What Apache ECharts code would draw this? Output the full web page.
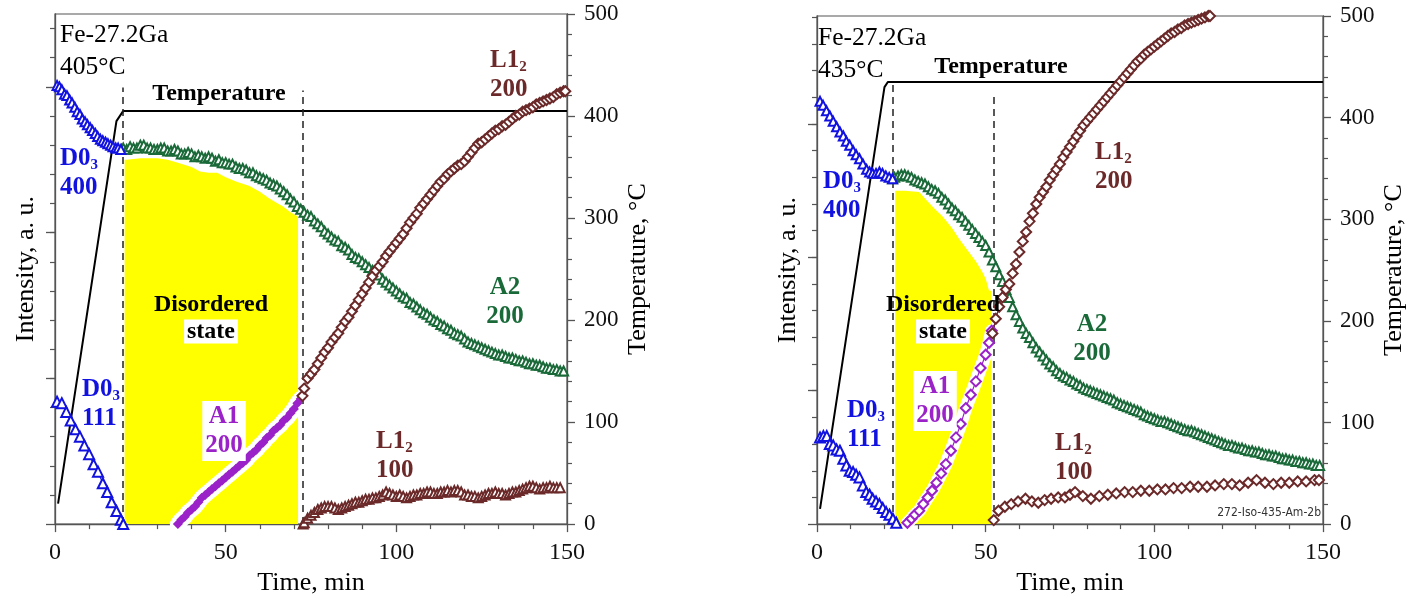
<!DOCTYPE html>
<html><head><meta charset="utf-8">
<script src="https://cdn.jsdelivr.net/npm/echarts@6/dist/echarts.min.js"></script>
<style>html,body{margin:0;padding:0;background:#fff}#c{width:1408px;height:601px}</style>
</head><body><div id="c"></div>
<script>
// ---------------- DATA ----------------
const timeTicks = [0, 50, 100, 150];
const tempTicks = [0, 100, 200, 300, 400, 500];
const intMajor = [0, 1, 2, 3];

// Left panel (405 C) : [time, intensity a.u.]
const L_d03_400 = [[0.6,3.01],[1.3,3.0],[2,2.98],[2.8,2.95],[3.5,2.94],[4.3,2.91],[5,2.89],[5.8,2.86],[6.5,2.83],[7.3,2.81],[8,2.78],[8.8,2.76],[9.5,2.74],[10.3,2.72],[11,2.70],[11.8,2.68],[12.5,2.66],[13.3,2.64],[14,2.63],[14.8,2.62],[15.5,2.61],[16.3,2.60],[17,2.59],[17.8,2.58],[18.5,2.58],[19.3,2.57]];
const L_d03_111 = [[0.6,0.84],[2,0.83],[3.3,0.77],[4.6,0.71],[6,0.65],[7.3,0.60],[8.6,0.54],[10,0.48],[11.3,0.41],[12.6,0.36],[14,0.28],[15.3,0.22],[16.6,0.15],[18,0.09],[19.3,0.03],[20,0.0]];
const L_a2 = [[19.5,2.57],[20,2.58],[21,2.57],[22,2.59],[23,2.58],[24,2.58],[25,2.60],[26,2.60],[27,2.58],[28,2.58],[29,2.57],[30,2.57],[31,2.58],[32,2.58],[33,2.56],[34,2.56],[35,2.57],[36,2.56],[37,2.54],[38,2.54],[39,2.55],[40,2.54],[41,2.52],[42,2.53],[43,2.52],[44,2.51],[45,2.52],[46,2.51],[47,2.49],[48,2.50],[49,2.48],[50,2.48],[51,2.47],[52,2.47],[53,2.45],[54,2.44],[55,2.44],[56,2.43],[57,2.41],[58,2.41],[59,2.39],[60,2.38],[61,2.37],[62,2.36],[63,2.34],[64,2.33],[65,2.32],[66,2.30],[67,2.28],[68,2.26],[69,2.23],[70,2.21],[71,2.18],[72,2.16],[73,2.14],[74,2.12],[75,2.11],[76,2.08],[77,2.06],[78,2.04],[79,2.01],[80,1.99],[81,1.97],[82,1.95],[83,1.94],[84,1.91],[85,1.90],[86,1.88],[87,1.85],[88,1.83],[89,1.82],[90,1.80],[91,1.78],[92,1.76],[93,1.74],[94,1.72],[95,1.71],[96,1.68],[97,1.66],[98,1.64],[99,1.62],[100,1.60],[101,1.58],[102,1.56],[103,1.55],[104,1.52],[105,1.51],[106,1.49],[107,1.47],[108,1.45],[109,1.44],[110,1.42],[111,1.40],[112,1.39],[113,1.37],[114,1.36],[115,1.34],[116,1.33],[117,1.31],[118,1.30],[119,1.29],[120,1.27],[121,1.25],[122,1.24],[123,1.23],[124,1.22],[125,1.21],[126,1.20],[127,1.19],[128,1.18],[129,1.17],[130,1.16],[131,1.16],[132,1.15],[133,1.14],[134,1.14],[135,1.13],[136,1.12],[137,1.12],[138,1.11],[139,1.10],[140,1.10],[141,1.09],[142,1.09],[143,1.08],[144,1.07],[145,1.07],[146,1.06],[147,1.06],[148,1.05],[149,1.05]];
const L_a1 = [[36,0.0],[37,0.03],[38,0.05],[39,0.08],[40,0.10],[41,0.12],[42,0.15],[43,0.18],[44,0.20],[45,0.22],[46,0.24],[47,0.26],[48,0.28],[49,0.30],[50,0.32],[51,0.34],[52,0.36],[53,0.38],[54,0.40],[55,0.42],[56,0.44],[57,0.47],[58,0.49],[59,0.51],[60,0.54],[61,0.56],[62,0.59],[63,0.61],[64,0.64],[65,0.66],[66,0.68],[67,0.71],[68,0.73],[69,0.76],[70,0.79],[71,0.83],[72,0.86]];
const L_l12_200 = [[72.5,0.88],[73,0.93],[74,1.00],[75,1.03],[76,1.06],[77,1.10],[78,1.14],[79,1.18],[80,1.21],[81,1.25],[82,1.28],[83,1.31],[84,1.35],[85,1.39],[86,1.42],[87,1.46],[88,1.50],[89,1.54],[90,1.58],[91,1.62],[92,1.66],[93,1.70],[94,1.74],[95,1.77],[96,1.80],[97,1.84],[98,1.87],[99,1.90],[100,1.93],[101,1.96],[102,1.99],[103,2.03],[104,2.07],[105,2.10],[106,2.13],[107,2.17],[108,2.20],[109,2.23],[110,2.26],[111,2.29],[112,2.32],[113,2.35],[114,2.37],[115,2.40],[116,2.42],[117,2.44],[118,2.46],[119,2.47],[120,2.49],[121,2.52],[122,2.55],[123,2.58],[124,2.61],[125,2.62],[126,2.64],[127,2.66],[128,2.68],[129,2.70],[130,2.71],[131,2.73],[132,2.74],[133,2.76],[134,2.78],[135,2.80],[136,2.81],[137,2.83],[138,2.84],[139,2.85],[140,2.86],[141,2.88],[142,2.89],[143,2.90],[144,2.91],[145,2.92],[146,2.93],[147,2.95],[148,2.96],[149,2.97],[149.5,2.97]];
const L_l12_100 = [[72.7,0.0],[73,0.01],[74,0.04],[75,0.06],[76,0.08],[77,0.10],[78,0.11],[79,0.12],[80,0.12],[81,0.12],[82,0.11],[83,0.10],[84,0.11],[85,0.12],[86,0.13],[87,0.14],[88,0.15],[89,0.15],[90,0.16],[91,0.17],[92,0.17],[93,0.18],[94,0.18],[95,0.19],[96,0.20],[97,0.22],[98,0.21],[99,0.20],[100,0.19],[101,0.20],[102,0.19],[103,0.18],[104,0.19],[105,0.20],[106,0.20],[107,0.21],[108,0.21],[109,0.22],[110,0.22],[111,0.21],[112,0.21],[113,0.22],[114,0.22],[115,0.23],[116,0.22],[117,0.23],[118,0.23],[119,0.22],[120,0.20],[121,0.20],[122,0.19],[123,0.19],[124,0.18],[125,0.19],[126,0.20],[127,0.21],[128,0.21],[129,0.22],[130,0.21],[131,0.21],[132,0.20],[133,0.21],[134,0.22],[135,0.22],[136,0.23],[137,0.24],[138,0.25],[139,0.26],[140,0.26],[141,0.25],[142,0.24],[143,0.25],[144,0.25],[145,0.26],[146,0.25],[147,0.25],[148,0.25]];
const L_yellow = [[20.4,2.50],[21,2.50],[25,2.51],[30,2.51],[33,2.50],[36,2.48],[40,2.45],[42.5,2.42],[45,2.41],[47.5,2.41],[50,2.38],[53,2.35],[57,2.32],[60,2.28],[63,2.23],[66.8,2.18],[69,2.14],[71.2,2.11]];
const L_temp = [[0.9,20],[18,395],[20,405],[150,405]];   // [time, degC]
const L_dash = [[19.9,428],[72.7,425]];                   // [time, top degC]

// Right panel (435 C)
const R_d03_400 = [[0.9,3.17],[1.8,3.14],[2.8,3.10],[3.8,3.06],[4.8,3.02],[5.8,2.98],[6.8,2.94],[7.8,2.91],[8.7,2.87],[9.7,2.84],[10.7,2.80],[11.6,2.77],[12.6,2.74],[13.6,2.70],[14.7,2.66],[15.6,2.64],[16.5,2.63],[17.5,2.63],[18.5,2.64],[19.4,2.63],[20.4,2.61],[21.4,2.60],[22.4,2.59]];
const R_d03_111 = [[0.9,0.65],[1.9,0.66],[2.9,0.66],[3.8,0.60],[4.8,0.59],[5.8,0.56],[6.8,0.55],[7.8,0.49],[8.7,0.44],[9.7,0.40],[10.7,0.39],[11.6,0.37],[12.6,0.35],[13.6,0.29],[14.6,0.24],[15.6,0.22],[16.5,0.19],[17.5,0.17],[18.5,0.15],[19.5,0.12],[20.5,0.09],[21.5,0.07],[22.5,0.04],[23.5,0.01]];
const R_a2 = [[22.4,2.59],[23,2.60],[24,2.61],[25,2.62],[26,2.62],[27,2.61],[28,2.60],[29,2.58],[30,2.57],[31,2.56],[32,2.55],[33,2.53],[34,2.51],[35,2.50],[36,2.48],[37,2.45],[38,2.43],[39,2.40],[40,2.37],[41,2.35],[42,2.32],[43,2.30],[44,2.27],[45,2.24],[46,2.21],[47,2.18],[48,2.15],[49,2.12],[50,2.09],[51,2.04],[52,1.98],[53,1.93],[54,1.87],[55,1.82],[56,1.76],[57,1.70],[58,1.63],[59,1.57],[60,1.52],[61,1.47],[62,1.43],[63,1.40],[64,1.36],[65,1.32],[66,1.29],[67,1.26],[68,1.23],[69,1.20],[70,1.18],[71,1.15],[72,1.13],[73,1.11],[74,1.10],[75,1.08],[76,1.07],[77,1.05],[78,1.04],[79,1.02],[80,1.01],[81,1.00],[82,0.99],[83,0.98],[84,0.97],[85,0.96],[86,0.95],[87,0.94],[88,0.93],[89,0.91],[90,0.90],[91,0.89],[92,0.88],[93,0.87],[94,0.86],[95,0.85],[96,0.84],[97,0.82],[98,0.81],[99,0.80],[100,0.79],[101,0.78],[102,0.77],[103,0.77],[104,0.76],[105,0.75],[106,0.74],[107,0.73],[108,0.72],[109,0.71],[110,0.70],[111,0.70],[112,0.69],[113,0.68],[114,0.67],[115,0.66],[116,0.65],[117,0.64],[118,0.63],[119,0.62],[120,0.61],[121,0.60],[122,0.59],[123,0.59],[124,0.58],[125,0.57],[126,0.57],[127,0.56],[128,0.55],[129,0.55],[130,0.54],[131,0.54],[132,0.53],[133,0.52],[134,0.52],[135,0.51],[136,0.51],[137,0.50],[138,0.49],[139,0.49],[140,0.48],[141,0.48],[142,0.47],[143,0.47],[144,0.46],[145,0.46],[146,0.45],[147,0.45],[148,0.44],[149,0.44]];
const R_a1 = [[26.8,0.01],[28,0.04],[29,0.07],[30.3,0.10],[31.5,0.15],[32.8,0.20],[34.1,0.25],[35.4,0.31],[36.8,0.38],[38.2,0.45],[39.7,0.55],[41.2,0.65],[42.6,0.75],[44.1,0.87],[45.6,0.97],[47.1,1.07],[48.5,1.17],[50,1.27],[51,1.36],[51.8,1.45]];
const R_l12_200 = [[52,1.43],[53,1.54],[54,1.63],[55,1.70],[56,1.76],[57,1.80],[58,1.88],[59,1.95],[60,2.04],[61,2.12],[62,2.19],[63,2.27],[64,2.33],[65,2.40],[66,2.45],[67,2.49],[68,2.53],[69,2.58],[70,2.62],[71,2.66],[72,2.70],[73,2.75],[74,2.79],[75,2.83],[76,2.87],[77,2.91],[78,2.95],[79,2.99],[80,3.02],[81,3.05],[82,3.08],[83,3.11],[84,3.14],[85,3.17],[86,3.20],[87,3.23],[88,3.26],[89,3.29],[90,3.32],[91,3.35],[92,3.38],[93,3.41],[94,3.44],[95,3.47],[96,3.49],[97,3.52],[98,3.54],[99,3.56],[100,3.58],[101,3.60],[102,3.62],[103,3.64],[104,3.66],[105,3.68],[106,3.69],[107,3.71],[108,3.72],[109,3.74],[110,3.75],[111,3.76],[112,3.77],[113,3.78],[114,3.79],[115,3.80],[116,3.81],[116.5,3.81]];
const R_l12_100 = [[52.4,0.03],[53.8,0.10],[55.7,0.13],[57.6,0.15],[59.6,0.17],[61.8,0.19],[63.7,0.17],[65.6,0.16],[67.5,0.18],[69.4,0.19],[71.5,0.20],[73.5,0.20],[75,0.22],[76.5,0.24],[78.8,0.21],[81.2,0.19],[83.7,0.21],[86.2,0.22],[88.7,0.23],[91.2,0.24],[93.6,0.24],[96,0.25],[98.5,0.25],[100.9,0.26],[103.3,0.26],[105.7,0.27],[108.1,0.27],[110.6,0.28],[113,0.28],[115.6,0.28],[118,0.29],[120.6,0.30],[123,0.30],[125.3,0.29],[127.8,0.31],[130.3,0.33],[132.8,0.31],[135.3,0.30],[137.6,0.31],[140,0.31],[142.5,0.32],[145,0.32],[147.5,0.33],[148.8,0.33]];
const R_yellow = [[23.2,2.50],[26,2.50],[30.3,2.49],[32.4,2.43],[35,2.36],[37.1,2.31],[40,2.22],[42.1,2.14],[45,2.04],[47.1,1.97],[49,1.89],[50,1.84],[51,1.75],[51.7,1.75]];
const R_temp = [[0.9,15],[20,430],[21,435],[150,435]];
const R_dash = [[22.4,432],[52.4,424]];

// annotations: [time, degC, text, kind]
const L_notes = [
  [1.5, 464, 'Fe-27.2Ga\n405°C', 'plain'],
  [48, 422, 'Temperature', 'temp'],
  [1.5, 344, 'D0_3\n400', 'blue'],
  [7.9, 118, 'D0_3\n111', 'blue'],
  [45.7, 203, 'Disordered\nstate', 'dis'],
  [49.5, 91, 'A1\n200', 'a1'],
  [127.5, 440, 'L1_2\n200', 'brown'],
  [131.8, 218, 'A2\n200', 'green'],
  [94, 67, 'L1_2\n100', 'brown']
];
const R_notes = [
  [0.3, 463, 'Fe-27.2Ga\n435°C', 'plain'],
  [54.4, 450, 'Temperature', 'temp'],
  [1.8, 323, 'D0_3\n400', 'blue'],
  [82.4, 351, 'L1_2\n200', 'brown'],
  [37.3, 204, 'Disordered\nstate', 'dis'],
  [81.5, 182, 'A2\n200', 'green'],
  [8.8, 98, 'D0_3\n111', 'blue'],
  [35, 121, 'A1\n200', 'a1'],
  [70.6, 65, 'L1_2\n100', 'brown'],
  [149.4, 11, '272-Iso-435-Am-2b', 'tag']
];

// ---------------- STYLE / BUILD ----------------
const SERIF = '"Liberation Serif","Times New Roman",serif';
const COL = {blue:'#1212e0', green:'#1a6a39', purple:'#9a22c8', brown:'#6b2929', axis:'#555', yellow:'#ffff00'};

function richFor(color, center){
  return {
    b:{fill:color, fontFamily:SERIF, fontWeight:'bold', fontSize:25, lineHeight:29, align:center?'center':'left'},
    s:{fill:color, fontFamily:SERIF, fontWeight:'bold', fontSize:15, lineHeight:16, verticalAlign:'bottom'}
  };
}
function subText(t){
  return t.split('\n').map(l => '{b|' + l.replace(/_(\w)/g, '}{s|$1}{b|') + '}').join('\n');
}
function noteStyle(text, kind){
  if (kind === 'plain') return {text, fill:'#000', fontFamily:SERIF, fontSize:25.5, lineHeight:32, align:'left', verticalAlign:'middle'};
  if (kind === 'temp') return {text, fill:'#000', fontFamily:SERIF, fontSize:24, fontWeight:'bold', align:'center', verticalAlign:'middle'};
  if (kind === 'tag') return {text, fill:'#333', fontFamily:'"DejaVu Sans Condensed","Liberation Sans",sans-serif', fontSize:12, align:'right', verticalAlign:'middle'};
  if (kind === 'dis') {
    const [a,b] = text.split('\n');
    return {text:'{d|'+a+'}\n{w|'+b+'}', align:'center', verticalAlign:'middle',
      rich:{d:{fill:'#000', fontFamily:SERIF, fontSize:24, fontWeight:'bold', lineHeight:29, align:'center'},
            w:{fill:'#000', fontFamily:SERIF, fontSize:24, fontWeight:'bold', lineHeight:24, align:'center', backgroundColor:'#fff', padding:[0,3]}}};
  }
  if (kind === 'a1') return {text:subText(text), rich:richFor(COL.purple,true), align:'center', verticalAlign:'middle', backgroundColor:'#fff', padding:[1,3]};
  const c = kind === 'blue' ? COL.blue : kind === 'green' ? COL.green : COL.brown;
  const center = kind === 'green';
  return {text:subText(text), rich:richFor(c, center), align:center?'center':'left', verticalAlign:'middle'};
}

function line(data, color, symbol, size, xi, yi, z, filled){
  return {type:'line', data, xAxisIndex:xi, yAxisIndex:yi, z, symbol, symbolSize:size, showSymbol:true,
    lineStyle:{color, width:1.2}, itemStyle:{color, borderColor:color, borderWidth:filled?0:1.5},
    emphasis:{disabled:true}, animation:false};
}

const grids = [
  {left:55, right:841, top:14, bottom:76, show:true, borderColor:COL.axis, borderWidth:1.2},
  {left:817, right:81, top:16, bottom:73, show:true, borderColor:COL.axis, borderWidth:1.2}
];
const axisLine = {show:true, lineStyle:{color:COL.axis, width:1.3}};
const nameStyle = {fontFamily:SERIF, fontSize:26, color:'#000'};

const xAxes = [0,1].map(g => ({
  gridIndex:g, type:'value', min:timeTicks[0], max:timeTicks[timeTicks.length-1], interval:50,
  axisLine, axisTick:{show:true, length:8, lineStyle:{color:COL.axis, width:1.3}},
  minorTick:{show:true, splitNumber:5, length:5, lineStyle:{color:COL.axis, width:1.2}},
  splitLine:{show:false}, minorSplitLine:{show:false},
  axisLabel:{fontFamily:SERIF, fontSize:24, color:'#111', margin:17},
  name:'Time, min', nameLocation:'middle', nameGap:45, nameTextStyle:nameStyle
}));

function intMinor(max){ const a=[]; for(let v=0.2; v<max; v+=0.2){ a.push(Math.round(v*10)/10);} return a; }
const intMax = [3.5, 3.81];
const yAxes = [];
[0,1].forEach(g => {
  yAxes.push({gridIndex:g, type:'value', position:'left', min:0, max:intMax[g], interval:1,
    axisLine, axisTick:{show:true, length:9, customValues:intMajor, lineStyle:{color:COL.axis, width:1.3}},
    axisLabel:{show:false}, splitLine:{show:false},
    name:'Intensity, a. u.', nameLocation:'middle', nameRotate:90, nameGap:16, nameTextStyle:nameStyle});
  yAxes.push({gridIndex:g, type:'value', position:'left', min:0, max:intMax[g], interval:0.2,
    axisLine:{show:false}, axisTick:{show:true, length:5, customValues:intMinor(intMax[g]), lineStyle:{color:COL.axis, width:1.2}},
    axisLabel:{show:false}, splitLine:{show:false}});
  yAxes.push({gridIndex:g, type:'value', position:'right', min:tempTicks[0], max:tempTicks[tempTicks.length-1], interval:100,
    axisLine, axisTick:{show:true, length:8, lineStyle:{color:COL.axis, width:1.3}},
    minorTick:{show:true, splitNumber:5, length:5, lineStyle:{color:COL.axis, width:1.2}},
    splitLine:{show:false}, minorSplitLine:{show:false},
    axisLabel:{fontFamily:SERIF, fontSize:23, color:'#111', margin:17},
    name:'Temperature, °C', nameLocation:'middle', nameRotate:90, nameGap:58, nameTextStyle:nameStyle});
});

function panelSeries(g, P){
  const yi = g*3, ti = g*3+2;
  const s = [];
  s.push({type:'line', data:P.yellow, xAxisIndex:g, yAxisIndex:yi, z:1, symbol:'none', lineStyle:{width:0},
    areaStyle:{color:COL.yellow, opacity:1, origin:0}, animation:false, silent:true});
  s.push({type:'line', data:P.a1, xAxisIndex:g, yAxisIndex:yi, z:2, symbol:'none',
    lineStyle:{color:'#fff', width:g===0?16:13, cap:'round'}, animation:false, silent:true});
  s.push({type:'line', data:P.temp, xAxisIndex:g, yAxisIndex:ti, z:4, symbol:'none',
    lineStyle:{color:'#000', width:2}, animation:false, silent:true,
    markLine:{silent:true, symbol:['none','none'], label:{show:false},
      lineStyle:{color:'#222', width:1.5, type:[7,5]},
      data:P.dash.map(d => [{coord:[d[0],0]},{coord:[d[0],d[1]]}])}});
  s.push(line(P.a2, COL.green, 'emptyTriangle', 9, g, yi, 5));
  s.push(line(P.d400, COL.blue, 'emptyTriangle', 9, g, yi, 6));
  s.push(line(P.d111, COL.blue, 'emptyTriangle', 10, g, yi, 6));
  s.push(g===0 ? line(P.a1, COL.purple, 'diamond', 10, g, yi, 6, true) : line(P.a1, COL.purple, 'emptyDiamond', 10, g, yi, 6));
  s.push(line(P.l200, COL.brown, 'emptyDiamond', 10, g, yi, 6));
  s.push(line(P.l100, COL.brown, g===0?'emptyTriangle':'emptyDiamond', g===0?9:10, g, yi, 6));
  return s;
}

const series = [].concat(
  panelSeries(0, {yellow:L_yellow, a1:L_a1, temp:L_temp, dash:L_dash, a2:L_a2, d400:L_d03_400, d111:L_d03_111, l200:L_l12_200, l100:L_l12_100}),
  panelSeries(1, {yellow:R_yellow, a1:R_a1, temp:R_temp, dash:R_dash, a2:R_a2, d400:R_d03_400, d111:R_d03_111, l200:R_l12_200, l100:R_l12_100})
);

const chart = echarts.init(document.getElementById('c'), null, {renderer:'canvas'});
chart.setOption({backgroundColor:'#fff', animation:false, grid:grids, xAxis:xAxes, yAxis:yAxes, series});

// annotations placed through the axes' own scales
const graphics = [];
[[L_notes,0],[R_notes,1]].forEach(([notes,g]) => {
  notes.forEach(n => {
    const p = chart.convertToPixel({xAxisIndex:g, yAxisIndex:g*3+2}, [n[0], n[1]]);
    graphics.push({type:'text', x:Math.round(p[0]), y:Math.round(p[1]), z:100, silent:true, style:noteStyle(n[2], n[3])});
  });
});
chart.setOption({graphic:graphics});
</script></body></html>
